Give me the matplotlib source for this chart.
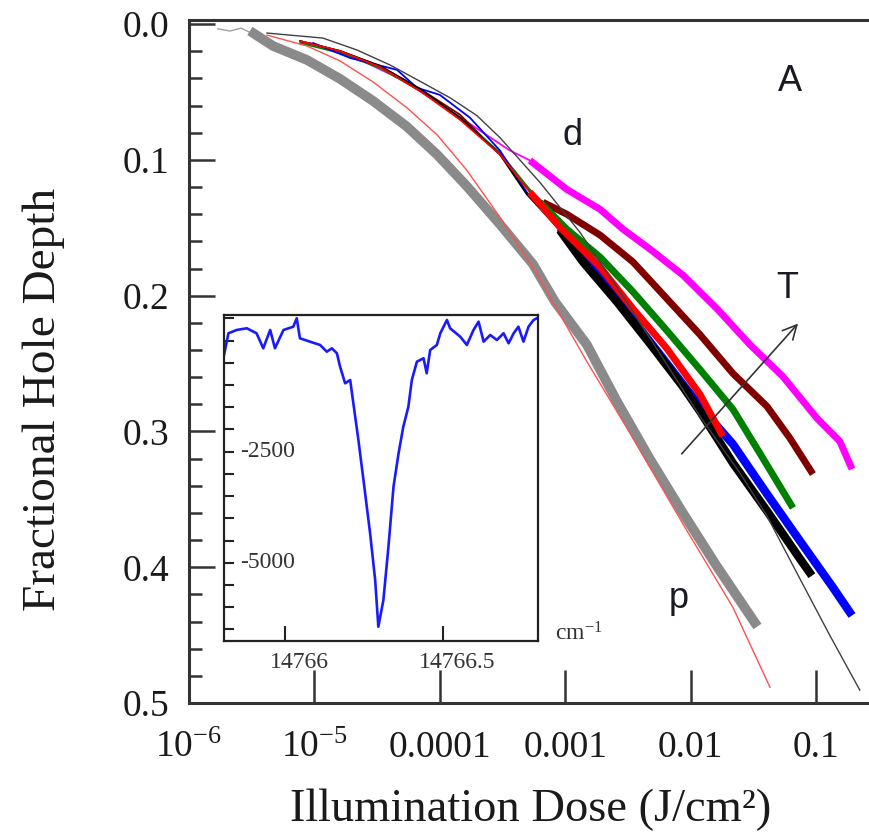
import numpy as np
import matplotlib
matplotlib.use("Agg")
import matplotlib.pyplot as plt
from matplotlib.ticker import FixedLocator, MultipleLocator, NullLocator
from matplotlib.transforms import ScaledTranslation, blended_transform_factory

plt.rcParams['font.family'] = ['Liberation Serif', 'DejaVu Serif']
plt.rcParams['mathtext.fontset'] = 'custom'
plt.rcParams['mathtext.rm'] = 'Liberation Serif'
plt.rcParams['mathtext.it'] = 'Liberation Serif:italic'

# ---------------- main panel data (dose in J/cm^2, fractional hole depth) ----------------
gray_dose = [3.3e-6, 4.68e-6, 8.73e-6, 1.60e-5, 2.93e-5, 5.47e-5, 9.50e-5, 1.65e-4, 3.02e-4,
             5.53e-4, 8.3e-4, 1.49e-3, 2.59e-3, 4.75e-3, 8.69e-3, 1.63e-2, 3.25e-2]
gray_depth = [0.007, 0.0161, 0.0264, 0.0403, 0.0565, 0.0755, 0.0960, 0.1195, 0.1474,
              0.1767, 0.2045, 0.2361, 0.2779, 0.3204, 0.3600, 0.3996, 0.4406]
gray_start_dose = [1.7e-6, 2.12e-6, 2.6e-6, 3.06e-6, 3.3e-6]
gray_start_depth = [0.0035, 0.0051, 0.0030, 0.0060, 0.007]

fit_p_dose = [4.19e-6, 8.73e-6, 1.60e-5, 2.93e-5, 5.47e-5, 9.50e-5, 1.65e-4, 3.02e-4,
              5.53e-4, 1.49e-3, 3.48e-3, 8.69e-3, 2.18e-2, 4.30e-2]
fit_p_depth = [0.0081, 0.0161, 0.0271, 0.0425, 0.0616, 0.0814, 0.1078, 0.1422,
               0.1789, 0.2485, 0.3050, 0.3680, 0.4296, 0.4883]

fit_d_dose = [4.19e-6, 1.17e-5, 2.19e-5, 4.01e-5, 7.35e-5, 1.21e-4, 1.98e-4, 3.02e-4, 6.30e-4,
              1.31e-3, 2.74e-3, 5.70e-3, 1.19e-2, 2.48e-2, 4.07e-2, 7.45e-2, 0.129, 0.224]
fit_d_depth = [0.0066, 0.0103, 0.0191, 0.0301, 0.0433, 0.0543, 0.0674, 0.0836, 0.1166,
               0.1532, 0.1972, 0.2427, 0.2889, 0.3306, 0.3622, 0.4084, 0.4501, 0.4905]

magenta_dose = [9.23e-6, 1.92e-5, 4.82e-5, 1.06e-4, 2.09e-4, 3.63e-4, 5.24e-4, 1.03e-3, 1.90e-3,
                2.89e-3, 4.75e-3, 8.69e-3, 1.63e-2, 2.98e-2, 5.45e-2, 0.102, 0.155, 0.194]
magenta_depth = [0.0139, 0.0227, 0.0403, 0.0601, 0.0784, 0.0931, 0.1004, 0.1217, 0.1364,
                 0.1510, 0.1657, 0.1848, 0.2097, 0.2361, 0.2595, 0.2903, 0.3072, 0.3277]

maroon_dose = [7.67e-6, 1.60e-5, 3.33e-5, 6.95e-5, 1.45e-4, 3.02e-4, 4.36e-4, 6.65e-4, 1.03e-3,
               1.90e-3, 3.48e-3, 6.49e-3, 1.19e-2, 2.18e-2, 4.07e-2, 6.21e-2, 9.46e-2]
maroon_depth = [0.0125, 0.0198, 0.0308, 0.0477, 0.0667, 0.0960, 0.1151, 0.1312, 0.1400,
                0.1554, 0.1752, 0.2023, 0.2287, 0.2573, 0.2815, 0.3050, 0.3314]

green_dose = [7.67e-6, 1.60e-5, 3.33e-5, 6.95e-5, 1.45e-4, 3.02e-4, 4.36e-4, 6.30e-4, 1.03e-3,
              1.90e-3, 3.48e-3, 6.49e-3, 1.19e-2, 2.18e-2, 3.57e-2, 6.56e-2]
green_depth = [0.0139, 0.0213, 0.0323, 0.0491, 0.0689, 0.0946, 0.1129, 0.1312, 0.1510,
               0.1716, 0.1972, 0.2258, 0.2544, 0.2837, 0.3160, 0.3563]

blue_dose = [9.75e-6, 1.92e-5, 4.56e-5, 6.58e-5, 1.00e-4, 1.74e-4, 3.02e-4, 4.95e-4, 9.09e-4,
             1.90e-3, 4.75e-3, 1.19e-2, 2.18e-2, 4.07e-2, 7.45e-2, 0.137, 0.194]
blue_depth = [0.0139, 0.0249, 0.0337, 0.0469, 0.0521, 0.0689, 0.0931, 0.1239, 0.1503,
              0.1862, 0.2339, 0.2815, 0.3094, 0.3460, 0.3805, 0.4150, 0.4355]

black_dose = [7.67e-6, 1.60e-5, 3.33e-5, 6.95e-5, 1.45e-4, 3.02e-4, 4.95e-4, 9.09e-4, 1.39e-3,
              2.59e-3, 4.75e-3, 8.69e-3, 1.19e-2, 2.18e-2, 4.07e-2, 7.45e-2, 9.29e-2]
black_depth = [0.0125, 0.0198, 0.0308, 0.0477, 0.0689, 0.0960, 0.1254, 0.1518, 0.1752,
               0.2045, 0.2353, 0.2669, 0.2852, 0.3233, 0.3585, 0.3937, 0.4062]

red_dose = [7.67e-6, 1.60e-5, 3.33e-5, 6.95e-5, 1.45e-4, 3.02e-4, 5.24e-4, 9.09e-4, 1.90e-3,
            3.48e-3, 6.49e-3, 1.19e-2, 1.81e-2]
red_depth = [0.0125, 0.0198, 0.0315, 0.0491, 0.0704, 0.0960, 0.1239, 0.1496, 0.1789,
             0.2097, 0.2390, 0.2727, 0.3035]

x_ticks = [1e-6, 1e-5, 1e-4, 1e-3, 1e-2, 1e-1]
x_tick_labels = [r'$10^{-6}$', r'$10^{-5}$', '0.0001', '0.001', '0.01', '0.1']
y_ticks = [0.0, 0.1, 0.2, 0.3, 0.4, 0.5]
y_tick_labels = ['0.0', '0.1', '0.2', '0.3', '0.4', '0.5']

# ---------------- inset data (spectral hole) ----------------
inset_wn = [14765.807, 14765.821, 14765.847, 14765.879, 14765.910, 14765.931, 14765.953,
            14765.968, 14765.995, 14766.026, 14766.037, 14766.047, 14766.079, 14766.111,
            14766.132, 14766.148, 14766.164, 14766.174, 14766.190, 14766.206, 14766.216,
            14766.232, 14766.248, 14766.269, 14766.285, 14766.295, 14766.311, 14766.327,
            14766.343, 14766.359, 14766.374, 14766.390, 14766.401, 14766.417, 14766.438,
            14766.448, 14766.459, 14766.480, 14766.491, 14766.512, 14766.522, 14766.554,
            14766.575, 14766.596, 14766.612, 14766.628, 14766.649, 14766.670, 14766.691,
            14766.707, 14766.723, 14766.738, 14766.754, 14766.770, 14766.786, 14766.796]
inset_signal = [-322, 166, 241, 279, 166, -172, 241,
                -172, 241, 315, 504, 54, -23, -97,
                -248, -172, -284, -586, -960, -885, -1410,
                -2237, -3137, -4338, -5389, -6441, -5840, -4639,
                -3288, -2536, -1937, -1487, -885, -473, -397,
                -734, -210, -97, 166, 466, 279, 90,
                -97, 241, 428, -23, 128, 15, 166,
                -59, 166, 315, -23, 315, 466, 504]
inset_x_ticks = [14766.0, 14766.5]
inset_x_labels = ['14766', '14766.5']
inset_y_labels = [-2500, -5000]

# ---------------- figure ----------------
fig = plt.figure(figsize=(8.7, 8.34), dpi=100)
ax = fig.add_axes([0.2172, 0.157, 0.7828, 0.819])
ax.set_xscale('log')
ax.set_xlim(1e-6, 0.27)
ax.set_ylim(0.5, -0.003)

def thick_thin(dose, depth, color, z, lw_thick=5.0, split=5e-4):
    d = np.asarray(dose)
    y = np.asarray(depth)
    idx = int(np.searchsorted(d, split))
    ax.plot(d[:idx + 1], y[:idx + 1], color=color, lw=1.3, zorder=z, solid_capstyle='round')
    ax.plot(d[idx:], y[idx:], color=color, lw=lw_thick, zorder=z, solid_capstyle='butt',
            solid_joinstyle='round')

ax.plot(gray_start_dose, gray_start_depth, color='#a0a0a0', lw=1.0, zorder=2)
ax.plot(gray_dose, gray_depth, color='#8a8a8a', lw=7, zorder=2, solid_joinstyle='round')
thick_thin(magenta_dose, magenta_depth, '#ff00ff', 3)
thick_thin(maroon_dose, maroon_depth, '#800000', 3)
thick_thin(green_dose, green_depth, '#008000', 3)
thick_thin(blue_dose, blue_depth, '#0000ff', 3, lw_thick=6)
thick_thin(black_dose, black_depth, '#000000', 3, lw_thick=6)
thick_thin(red_dose, red_depth, '#ff0000', 3)
ax.plot(fit_p_dose, fit_p_depth, color='#ff5050', lw=1.0, zorder=4)
ax.plot(fit_d_dose, fit_d_depth, color='#404040', lw=1.0, zorder=4)

ax.annotate('', xy=(7.45e-2, 0.219), xytext=(8.22e-3, 0.318),
            arrowprops=dict(arrowstyle='->', color='#333333', lw=1.2, mutation_scale=25),
            zorder=5)

sans = ['Liberation Sans', 'DejaVu Sans']
txtc = '#1a1a24'
ax.text(0.062, 0.042, 'A', family=sans, fontsize=26, color=txtc, ha='center', va='center')
ax.text(1.15e-3, 0.082, 'd', family=sans, fontsize=26, color=txtc, ha='center', va='center')
ax.text(0.0587, 0.195, 'T', family=sans, fontsize=26, color=txtc, ha='center', va='center')
ax.text(8.0e-3, 0.423, 'p', family=sans, fontsize=26, color=txtc, ha='center', va='center')

ax.xaxis.set_major_locator(FixedLocator(x_ticks))
ax.xaxis.set_minor_locator(NullLocator())
ax.set_xticklabels(x_tick_labels)
ax.yaxis.set_major_locator(FixedLocator(y_ticks))
ax.yaxis.set_minor_locator(MultipleLocator(0.02))
ax.set_yticklabels(y_tick_labels)
ax.tick_params(axis='x', which='major', direction='in', length=24, width=1.8,
               labelsize=27, pad=20, colors='#333333', labelcolor='#1a1a1a', top=False)
ax.tick_params(axis='y', which='major', direction='in', length=19, width=1.8,
               labelsize=27, pad=14, colors='#333333', labelcolor='#1a1a1a', right=False)
ax.tick_params(axis='y', which='minor', direction='in', length=9, width=1.8,
               colors='#333333', right=False)
for s in ['left', 'bottom', 'top']:
    ax.spines[s].set_linewidth(2.2)
    ax.spines[s].set_color('#333333')
ax.spines['right'].set_visible(False)

ax.set_xlabel('Illumination Dose (J/cm²)', fontsize=33.5, color='#1a1a1a')
ax.xaxis.set_label_coords(0.502, -0.125)
ax.set_ylabel('Fractional Hole Depth', fontsize=34, color='#1a1a1a')
ax.yaxis.set_label_coords(-0.182, 0.445)

# ---------------- inset ----------------
ins = fig.add_axes([0.2575, 0.2314, 0.3609, 0.3909])
ins.set_facecolor('white')
ins.set_zorder(10)
ins.plot(inset_wn, inset_signal, color='#1a1aff', lw=1.9)
ins.set_xlim(14765.807, 14766.80)
ins.set_ylim(-6763, 578)
ins.xaxis.set_major_locator(FixedLocator(inset_x_ticks))
ins.set_xticklabels(inset_x_labels)
ins.yaxis.set_major_locator(MultipleLocator(500))
ins.set_yticklabels([])
ins.tick_params(axis='x', direction='in', length=11, width=1.5, labelsize=17, pad=8,
                colors='#222222', labelcolor='#333333')
ins.tick_params(axis='y', direction='in', length=7, width=1.5, colors='#222222')
for lab in ins.get_xticklabels():
    lab.set_transform(lab.get_transform() + ScaledTranslation(14 / 100, 0, fig.dpi_scale_trans))
for s in ins.spines.values():
    s.set_linewidth(1.6)
    s.set_color('#222222')
bt = blended_transform_factory(ins.transAxes, ins.transData)
for v in inset_y_labels:
    ins.text(0.05, v, str(v), transform=bt, fontsize=17, color='#333333', ha='left', va='center')
fig.text(0.665, 0.240, r'cm$^{-1}$', fontsize=17, color='#333333', ha='center', va='center')

fig.savefig('out.png', dpi=100)
